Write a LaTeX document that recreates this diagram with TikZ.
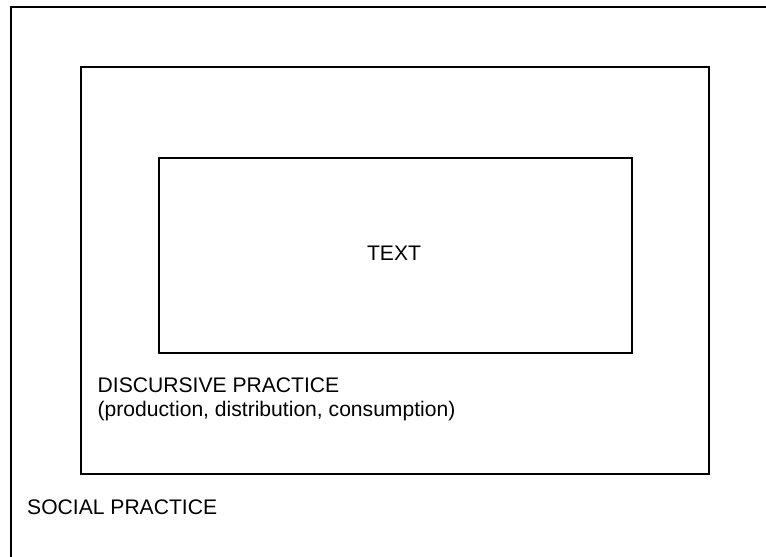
\documentclass[tikz,border=0pt]{standalone}
\usepackage{fontspec}
\setmainfont{Liberation Sans}
\begin{document}
\begin{tikzpicture}[x=1pt,y=-1pt,
    box/.style={draw,line width=1.5pt,inner sep=0pt,anchor=north west},
    lbl/.style={inner sep=0pt,font=\fontsize{21.1}{24}\selectfont}]
           \useasboundingbox (0,0) rectangle (766,557);
           \node[box,minimum width=790pt,minimum height=580pt] (social) at (10,6) {};
           \node[box,minimum width=628pt,minimum height=407pt] (discursive) at (80,66) {};
           \node[box,minimum width=473pt,minimum height=195pt] (text) at (158,157) {};

           \node[lbl] (textlbl) at (394,253) {TEXT};
           \node[lbl,anchor=base west] (disclbl) at (97.5,392) {DISCURSIVE PRACTICE};
           \node[lbl,anchor=base west] (proclbl) at (97.5,416) {(production, distribution, consumption)};
           \node[lbl,anchor=base west] (soclbl) at (27,514) {SOCIAL PRACTICE};
         \end{tikzpicture}
\end{document}
